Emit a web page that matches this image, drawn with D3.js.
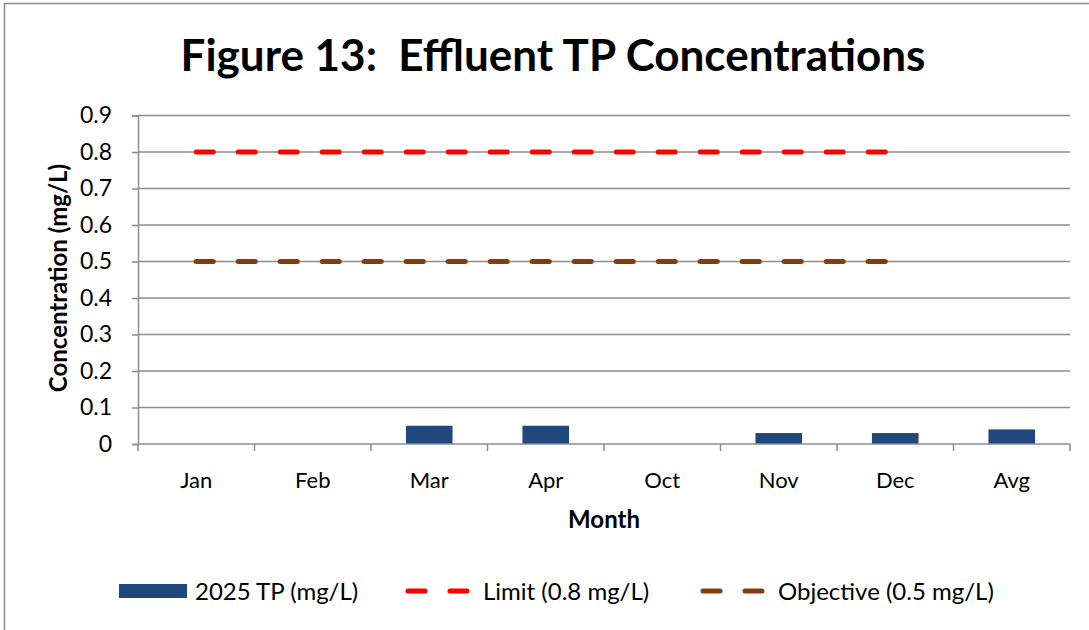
<!DOCTYPE html>
<html>
<head>
<meta charset="utf-8">
<script src="https://cdn.jsdelivr.net/npm/d3@7"></script>
<style>
  body { margin: 0; background: #fff; }
  text { font-family: Lato, "Open Sans", sans-serif; fill: #000; white-space: pre; }
</style>
</head>
<body>
<svg id="chart" width="1089" height="630"></svg>
<script>
// 数据
const months = ["Jan", "Feb", "Mar", "Apr", "Oct", "Nov", "Dec", "Avg"];
const tpValues = [0, 0, 0.05, 0.05, 0, 0.03, 0.03, 0.04];
const limitMonths = ["Jan", "Feb", "Mar", "Apr", "Oct", "Nov", "Dec"];
const limitValues = [0.8, 0.8, 0.8, 0.8, 0.8, 0.8, 0.8];
const objectiveValues = [0.5, 0.5, 0.5, 0.5, 0.5, 0.5, 0.5];
const yTicks = [0, 0.1, 0.2, 0.3, 0.4, 0.5, 0.6, 0.7, 0.8, 0.9];

const margin = { left: 138, right: 1070, top: 115.5, bottom: 444 };
const gridColor = "#8c8c8c";

const svg = d3.select("#chart");

// 外框
svg.append("rect")
    .attr("x", 4.5).attr("y", 3.5)
    .attr("width", 1200).attr("height", 700)
    .attr("fill", "none").attr("stroke", gridColor).attr("stroke-width", 1.5);

const x = d3.scaleBand().domain(months).range([margin.left, margin.right]);
const y = d3.scaleLinear().domain([0, 0.9]).range([margin.bottom, margin.top]);

// 网格线
svg.append("g").selectAll("line")
    .data(yTicks.filter(d => d > 0))
    .join("line")
    .attr("x1", margin.left).attr("x2", margin.right)
    .attr("y1", d => y(d)).attr("y2", d => y(d))
    .attr("stroke", gridColor).attr("stroke-width", 1.5);

// Y 轴
const yAxis = svg.append("g")
    .attr("transform", `translate(${margin.left},0)`)
    .call(d3.axisLeft(y).tickValues(yTicks).tickFormat(d => d === 0 ? "0" : d3.format(".1f")(d)).tickSize(6).tickPadding(20));
yAxis.select(".domain").attr("stroke", gridColor).attr("stroke-width", 1.5);
yAxis.selectAll(".tick line").attr("stroke", gridColor).attr("stroke-width", 1.5);
yAxis.selectAll(".tick text").attr("font-size", 23).attr("fill", "#000")
    .style("font-family", "Lato, 'Open Sans', sans-serif");

// 柱子
svg.append("g").selectAll("rect")
    .data(months.map((m, i) => ({ m, v: tpValues[i] })).filter(d => d.v > 0))
    .join("rect")
    .attr("x", d => x(d.m) + x.bandwidth() * 0.3)
    .attr("width", x.bandwidth() * 0.4)
    .attr("y", d => y(d.v))
    .attr("height", d => y(0) - y(d.v))
    .attr("fill", "#1f497d");

// X 轴
const boundaries = months.map(m => x(m)).concat([margin.right]);
svg.append("line")
    .attr("x1", margin.left).attr("x2", margin.right)
    .attr("y1", y(0)).attr("y2", y(0))
    .attr("stroke", gridColor).attr("stroke-width", 1.5);
svg.append("g").selectAll("line")
    .data(boundaries)
    .join("line")
    .attr("x1", d => d).attr("x2", d => d)
    .attr("y1", y(0)).attr("y2", y(0) + 7)
    .attr("stroke", gridColor).attr("stroke-width", 1.5);
svg.append("g").selectAll("text")
    .data(months)
    .join("text")
    .attr("x", d => x(d) + x.bandwidth() / 2)
    .attr("y", 488)
    .attr("text-anchor", "middle")
    .attr("font-size", 22)
    .text(d => d);

// 虚线
const line = d3.line()
    .x((d, i) => x(limitMonths[i]) + x.bandwidth() / 2)
    .y(d => y(d));
function drawDashed(values, color) {
    svg.append("path")
        .datum(values)
        .attr("d", line)
        .attr("fill", "none")
        .attr("stroke", color)
        .attr("stroke-width", 5)
        .attr("stroke-linecap", "round")
        .attr("stroke-dasharray", "17 25");
}
drawDashed(limitValues, "#ff0000");
drawDashed(objectiveValues, "#843c0c");

// 标题
svg.append("text")
    .attr("x", 553).attr("y", 71)
    .attr("text-anchor", "middle")
    .attr("font-size", 44).attr("font-weight", "bold")
    .text("Figure 13:  Effluent TP Concentrations");

svg.append("text")
    .attr("x", 604).attr("y", 528)
    .attr("text-anchor", "middle")
    .attr("font-size", 24).attr("font-weight", "bold")
    .text("Month");

svg.append("text")
    .attr("transform", "translate(67,278) rotate(-90)")
    .attr("text-anchor", "middle")
    .attr("font-size", 24).attr("font-weight", "bold")
    .text("Concentration (mg/L)");

// 图例
const legend = svg.append("g");
legend.append("rect").attr("x", 119).attr("y", 584).attr("width", 68).attr("height", 14).attr("fill", "#1f497d");
legend.append("text").attr("x", 195).attr("y", 600).attr("font-size", 24).text("2025 TP (mg/L)");
[[405, "#ff0000", "Limit (0.8 mg/L)"], [700, "#843c0c", "Objective (0.5 mg/L)"]].forEach(([lx, c, t]) => {
    legend.append("line")
        .attr("x1", lx + 3).attr("x2", lx + 63).attr("y1", 591).attr("y2", 591)
        .attr("stroke", c).attr("stroke-width", 5).attr("stroke-linecap", "round")
        .attr("stroke-dasharray", "17 25");
    legend.append("text").attr("x", lx + 78).attr("y", 600).attr("font-size", 24).text(t);
});
</script>
</body>
</html>
